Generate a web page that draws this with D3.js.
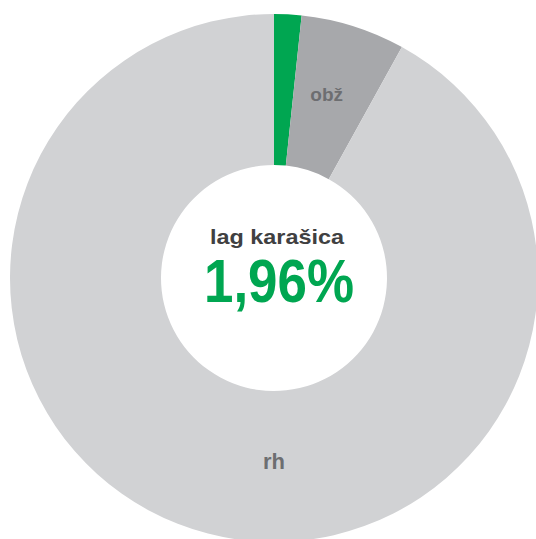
<!DOCTYPE html>
<html>
<head>
<meta charset="utf-8">
<script src="https://cdn.jsdelivr.net/npm/d3@7"></script>
<style>
  body { margin: 0; background: #fff; }
  text { font-family: "Liberation Sans", Arial, sans-serif; font-weight: bold; }
</style>
</head>
<body>
<script>
// slice data (share of the ring)
const categories = ["lag karašica", "obž", "rh"];
const shares = [1.67, 6.38, 91.95];
const colors = ["#00a651", "#a7a8ab", "#d1d2d4"];
const labels = ["", "obž", "rh"];
const centerTitle = "lag karašica";
const centerValue = "1,96%";

const w = 536, h = 539;
const cx = 274, cy = 278;
const outerR = 264, innerR = 113;

const svg = d3.select("body").append("svg").attr("width", w).attr("height", h);
const g = svg.append("g").attr("transform", "translate(" + cx + "," + cy + ")");

const pie = d3.pie().sort(null).value(d => d);
const arc = d3.arc().innerRadius(innerR).outerRadius(outerR);
const arcs = pie(shares);

g.selectAll("path")
  .data(arcs)
  .enter()
  .append("path")
  .attr("d", arc)
  .attr("fill", (d, i) => colors[i]);

// obž label sits on the slice centroid
const c1 = arc.centroid(arcs[1]);
g.append("text")
  .attr("x", c1[0] - 4)
  .attr("y", c1[1] + 3)
  .attr("text-anchor", "middle")
  .attr("font-size", 19)
  .attr("fill", "#6d6e71")
  .text(labels[1]);

// rh label at the bottom of the ring
const midR = (innerR + outerR) / 2;
g.append("text")
  .attr("x", 0)
  .attr("y", midR + 2)
  .attr("text-anchor", "middle")
  .attr("font-size", 22)
  .attr("fill", "#6d6e71")
  .text(labels[2]);

// centre texts
g.append("text")
  .attr("x", 3)
  .attr("y", -34)
  .attr("text-anchor", "middle")
  .attr("font-size", 21)
  .attr("textLength", 134)
  .attr("lengthAdjust", "spacingAndGlyphs")
  .attr("fill", "#404041")
  .text(centerTitle);

g.append("text")
  .attr("x", 5)
  .attr("y", 24)
  .attr("text-anchor", "middle")
  .attr("font-size", 61)
  .attr("textLength", 150)
  .attr("lengthAdjust", "spacingAndGlyphs")
  .attr("fill", "#00a651")
  .text(centerValue);
</script>
</body>
</html>
